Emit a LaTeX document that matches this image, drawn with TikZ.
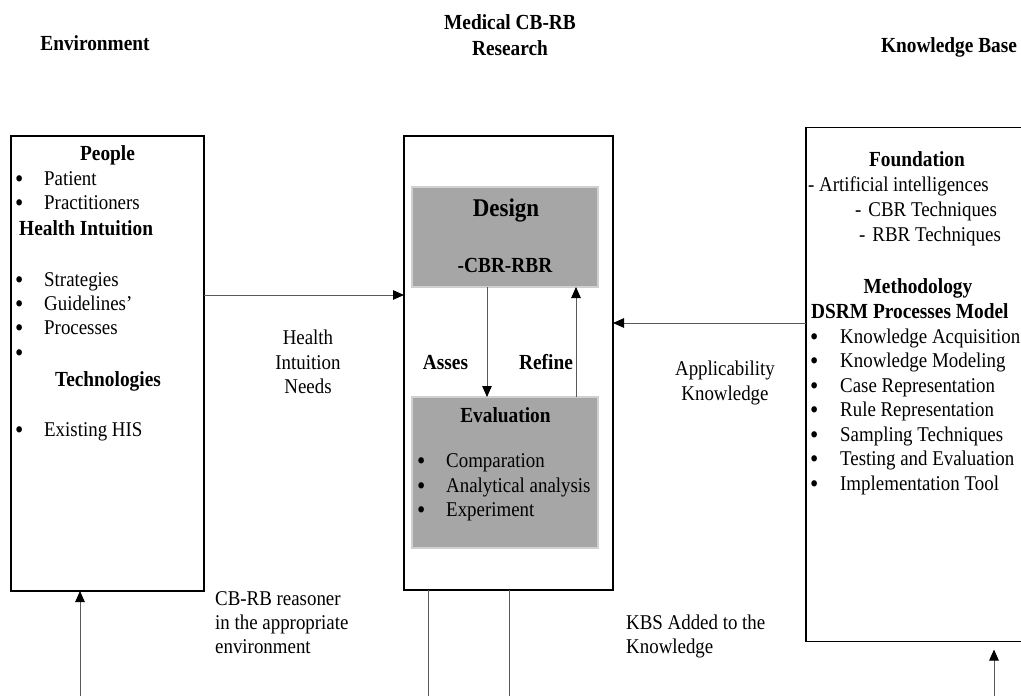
\documentclass[tikz,border=0pt]{standalone}
\usepackage{fontspec}
\setmainfont{Liberation Serif}[FakeStretch=0.9]
\usetikzlibrary{arrows.meta}
\definecolor{panelgray}{HTML}{A6A6A6}
\definecolor{panelrim}{HTML}{D0D0D0}
\newcommand{\bulletrow}[2][29pt]{\makebox[#1][l]{\raisebox{-2.5pt}{\scalebox{1.25}{•}}}#2}
\begin{document}
\begin{tikzpicture}[x=1pt,y=-1pt,
  frame/.style={draw=black,line width=1.7pt,inner sep=0pt,outer sep=0pt},
  panel/.style={fill=panelgray,draw=panelrim,line width=1.5pt,inner sep=0pt,outer sep=0pt},
  txt/.style={inner sep=0pt,font=\fontsize{21}{25}\selectfont,text height=14pt,text depth=4pt},
  head/.style={txt,font=\fontsize{21.5}{25}\selectfont\bfseries},
  lft/.style={anchor=west},
  flow/.style={draw=black!65,line width=1pt,-{Triangle[length=11pt,width=9.5pt,color=black]}},
  plain/.style={draw=black!65,line width=1pt}]
\clip (0,0) rectangle (1021,696);
\useasboundingbox (0,0) rectangle (1021,696);

% column headings
\node[head] (envhead) at (95,45) {Environment};
\node[head] (reshead1) at (510,25) {Medical CB-RB};
\node[head] (reshead2) at (510,50) {Research};
\node[head] (kbhead) at (949,47) {Knowledge Base};

% main frames
\node[frame,minimum width=193,minimum height=455] (envbox) at (107.5,363.5) {};
\node[frame,minimum width=209,minimum height=454] (resbox) at (508.5,363) {};
\node[frame,minimum width=222,minimum height=514] (kbbox) at (917,384.5) {};

% design / evaluation panels
\node[panel,minimum width=186,minimum height=100] (design) at (505,237) {};
\node[panel,minimum width=186,minimum height=151] (evalbox) at (505,472.5) {};

% environment contents
\node[head] (people) at (107.5,155) {People};
\node[txt,lft] (patient) at (15,180) {\bulletrow{Patient}};
\node[txt,lft] (pract) at (15,204) {\bulletrow{Practitioners}};
\node[head,lft] (hinst) at (19,230) {Health Intuition};
\node[txt,lft] (strat) at (15,281) {\bulletrow{Strategies}};
\node[txt,lft] (guide) at (15,305) {\bulletrow{Guidelines'}};
\node[txt,lft] (procs) at (15,329) {\bulletrow{Processes}};
\node[txt,lft] (blank) at (15,354) {\bulletrow{}};
\node[head] (techs) at (108,381) {Technologies};
\node[txt,lft] (his) at (15,431) {\bulletrow{Existing HIS}};

% research contents
\node[head,font=\fontsize{25.5}{29}\selectfont\bfseries] (designlbl) at (506,211) {Design};
\node[head] (cbrrbr) at (505,267) {-CBR-RBR};
\node[head] (evallbl) at (505.5,417) {Evaluation};
\node[txt,lft] (comp) at (417,462) {\bulletrow{Comparation}};
\node[txt,lft] (anal) at (417,487) {\bulletrow{Analytical analysis}};
\node[txt,lft] (expt) at (417,511) {\bulletrow{Experiment}};
\node[head] (asses) at (445.5,364) {Asses};
\node[head] (refine) at (546,364) {Refine};

% knowledge base contents
\node[head] (found) at (917,161) {Foundation};
\node[txt,lft] (ai) at (808,186) {- Artificial intelligences};
\node[txt,lft] (cbrt) at (855,211) {-\hspace{7pt}CBR Techniques};
\node[txt,lft] (rbrt) at (859,236) {-\hspace{7pt}RBR Techniques};
\node[head] (method) at (918,288) {Methodology};
\node[head,lft] (dsrm) at (811,313) {DSRM Processes Model};
\node[txt,lft] (k1) at (810,338) {\bulletrow[30pt]{Knowledge Acquisition}};
\node[txt,lft] (k2) at (810,362) {\bulletrow[30pt]{Knowledge Modeling}};
\node[txt,lft] (k3) at (810,387) {\bulletrow[30pt]{Case Representation}};
\node[txt,lft] (k4) at (810,411) {\bulletrow[30pt]{Rule Representation}};
\node[txt,lft] (k5) at (810,436) {\bulletrow[30pt]{Sampling Techniques}};
\node[txt,lft] (k6) at (810,460) {\bulletrow[30pt]{Testing and Evaluation}};
\node[txt,lft] (k7) at (810,485) {\bulletrow[30pt]{Implementation Tool}};

% connector labels
\node[txt,align=center,font=\fontsize{21}{24.5}\selectfont,text height=,text depth=] (needs) at (308,362) {Health\\Intuition\\Needs};
\node[txt,align=center,font=\fontsize{21}{24.5}\selectfont,text height=,text depth=] (applic) at (725,383) {Applicability\\Knowledge};
\node[txt,align=left,anchor=north west,font=\fontsize{21}{24}\selectfont,text height=,text depth=] (reasoner) at (215,591) {CB-RB reasoner\\in the appropriate\\environment};
\node[txt,align=left,anchor=north west,font=\fontsize{21}{24}\selectfont,text height=,text depth=] (kbsadded) at (626,615) {KBS Added to the\\Knowledge};

% connectors
\coordinate (needsrow) at (0,295);
\coordinate (applrow) at (0,323);
\draw[flow] (envbox.east |- needsrow) -- (resbox.west |- needsrow);
\draw[flow] (kbbox.west |- applrow) -- (resbox.east |- applrow);

\coordinate (assescol) at (487,0);
\coordinate (refinecol) at (576,0);
\draw[flow] (design.south -| assescol) -- (evalbox.north -| assescol);
\draw[flow] (evalbox.north -| refinecol) -- (design.south -| refinecol);

% links running off the lower edge
\coordinate (envfoot) at (80,700);
\coordinate (resfootA) at (428,700);
\coordinate (resfootB) at (509,700);
\coordinate (kbfoot) at (994,700);
\draw[flow] (envfoot) -- (envfoot |- envbox.south);
\draw[plain] (resbox.south -| resfootA) -- (resfootA);
\draw[plain] (resbox.south -| resfootB) -- (resfootB);
\draw[flow,shorten >=8pt] (kbfoot) -- (kbfoot |- kbbox.south);
\end{tikzpicture}
\end{document}
